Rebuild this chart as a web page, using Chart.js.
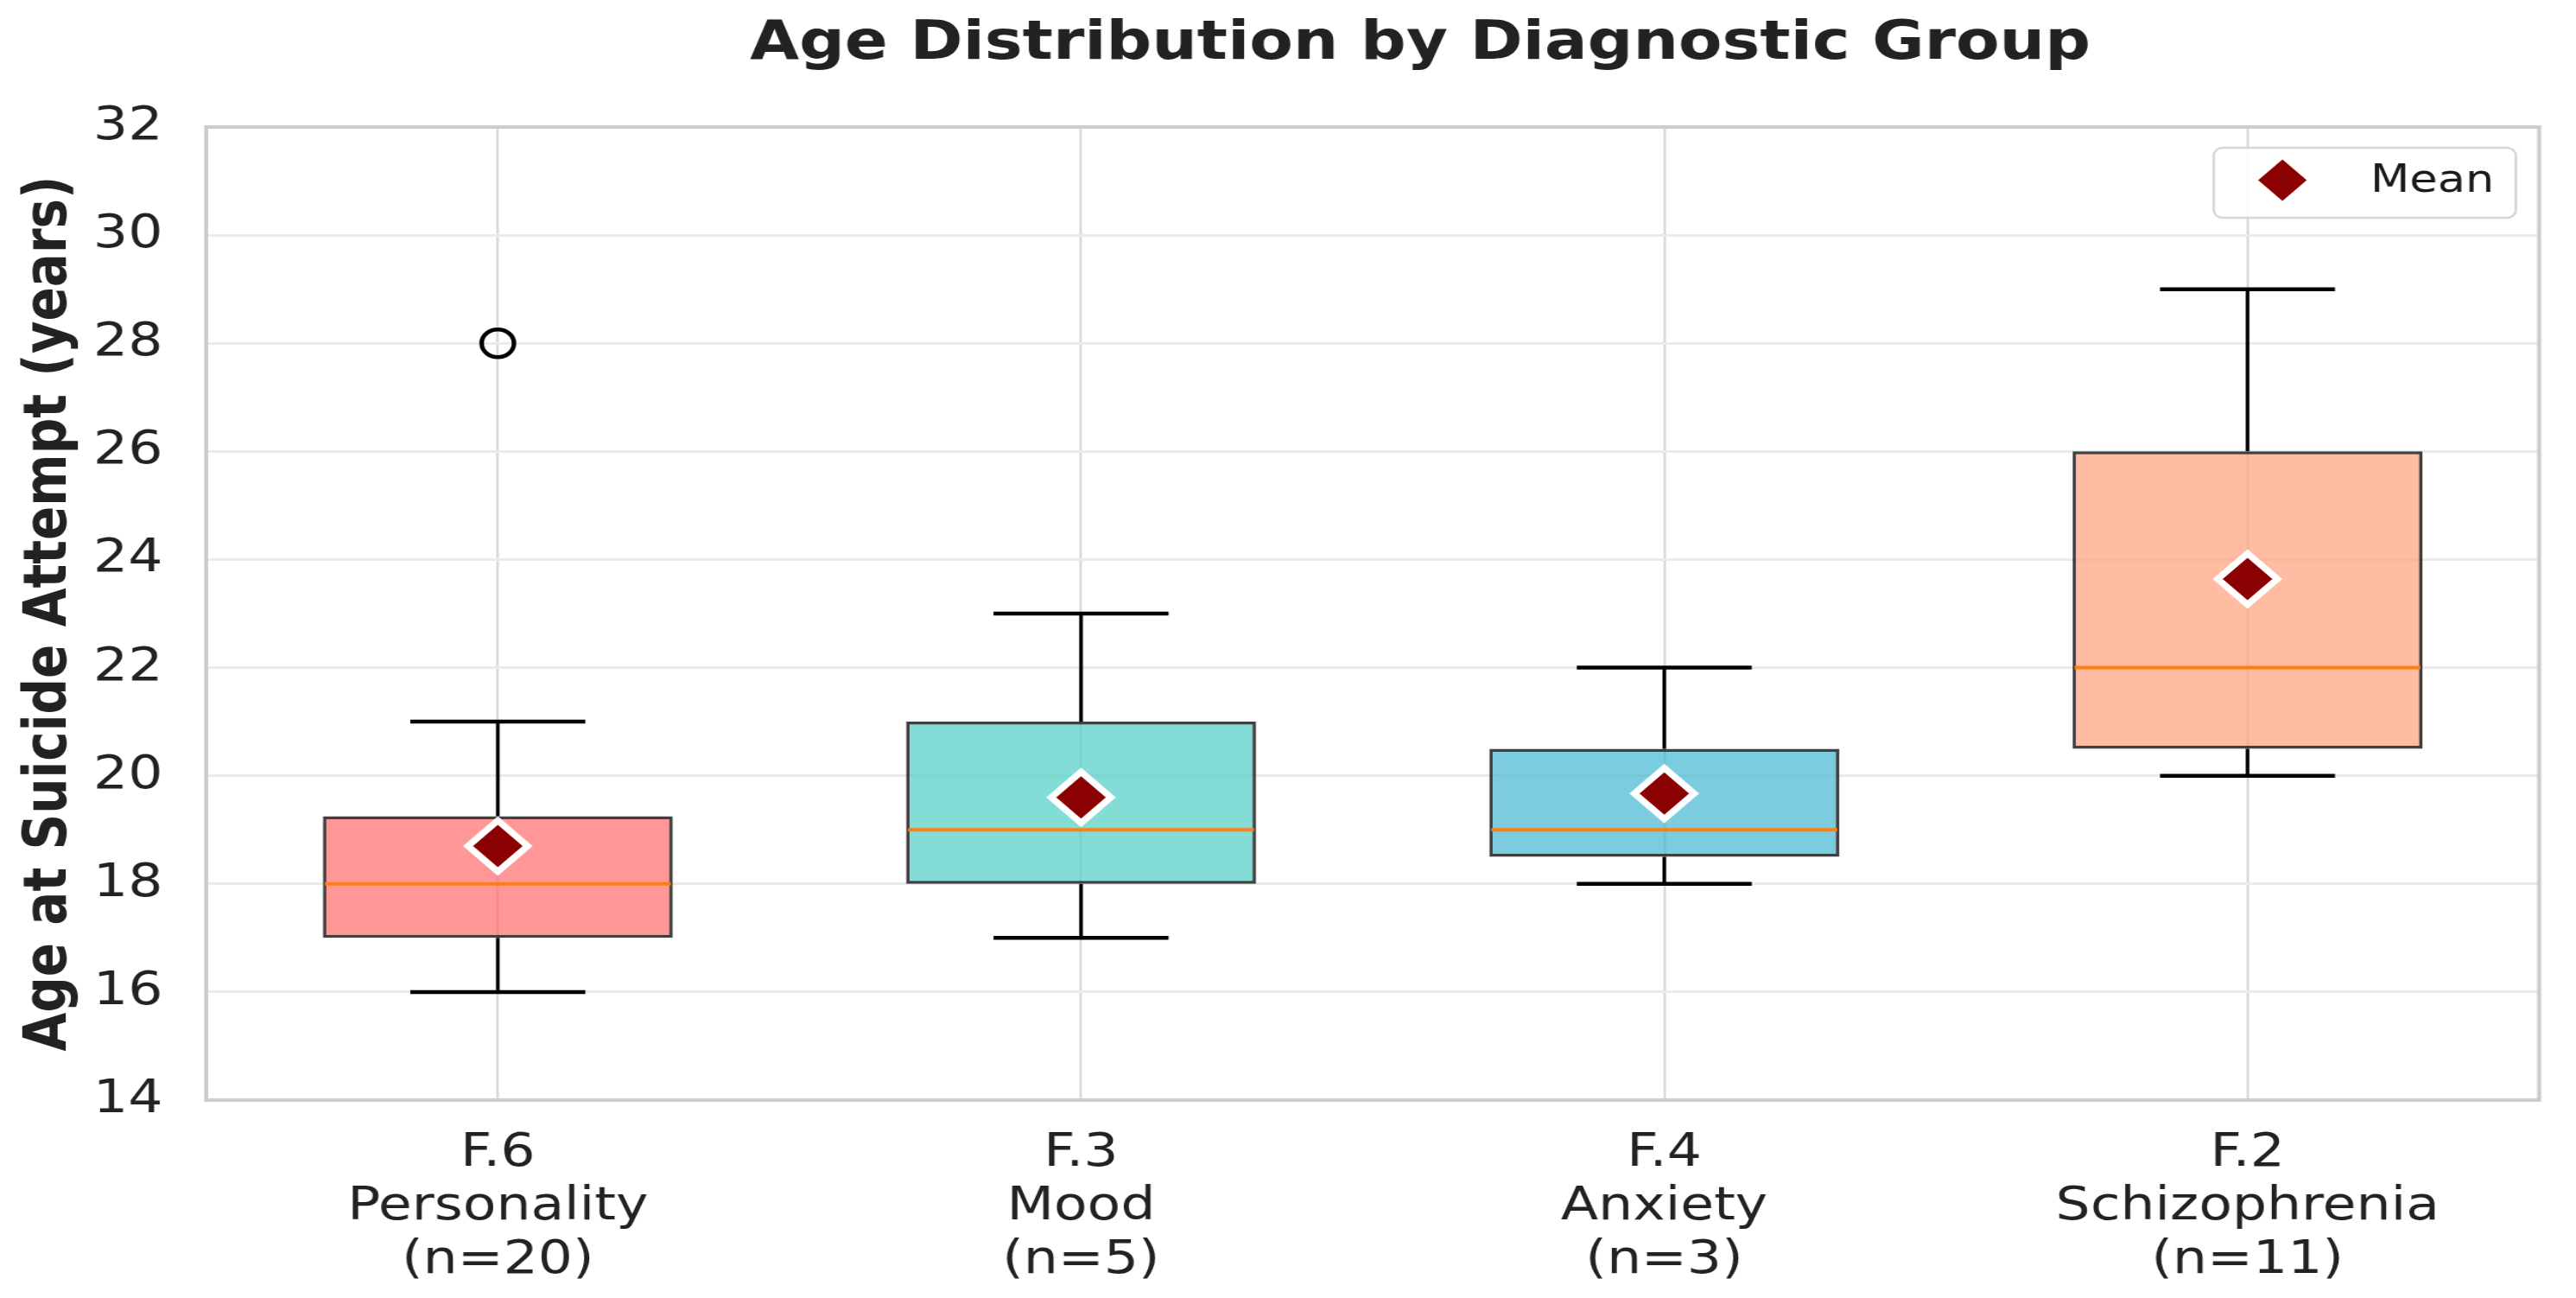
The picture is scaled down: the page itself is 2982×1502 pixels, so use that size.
<!DOCTYPE html>
<html>
<head>
<meta charset="utf-8">
<script src="https://cdn.jsdelivr.net/npm/chart.js@4.4.1/dist/chart.umd.min.js"></script>
<style>
  html, body { margin: 0; padding: 0; background: #ffffff; }
  #wrap { width: 2982px; height: 1502px; }
</style>
</head>
<body>
<div id="wrap"><canvas id="c" width="2549" height="1502" style="width:2982px;height:1502px;display:block"></canvas></div>
<script>
// ---- data ----
const categories = [
  ['F.6', 'Personality', '(n=20)'],
  ['F.3', 'Mood', '(n=5)'],
  ['F.4', 'Anxiety', '(n=3)'],
  ['F.2', 'Schizophrenia', '(n=11)']
];
const q1 = [17, 18, 18.5, 20.5];
const q3 = [19.25, 21, 20.5, 26];
const medians = [18, 19, 19, 22];
const whiskerLow = [16, 17, 18, 20];
const whiskerHigh = [21, 23, 22, 29];
const means = [18.7, 19.6, 19.67, 23.64];
const outliers = [28, null, null, null];
const boxColors = ['rgba(255,107,107,0.7)', 'rgba(78,205,196,0.7)', 'rgba(69,183,209,0.7)', 'rgba(255,160,122,0.7)'];
const legendLabels = ['Mean'];
const titleText = 'Age Distribution by Diagnostic Group';
const yTitleText = 'Age at Suicide Attempt (years)';
const yMin = 14, yMax = 32, yStep = 2;

const FONT = "'DejaVu Sans', 'Liberation Sans', sans-serif";
const BOX_FRAC = 0.6, CAP_FRAC = 0.3;

const boxPlugin = {
  id: 'boxParts',
  afterDatasetDraw(chart, args) {
    if (args.index !== 0) return;
    const ctx = chart.ctx;
    const xs = chart.scales.x, ys = chart.scales.y;
    const cw = xs.width / categories.length;
    ctx.save();
    ctx.lineCap = 'butt';
    for (let i = 0; i < categories.length; i++) {
      const x = xs.getPixelForValue(i);
      ctx.strokeStyle = '#000000';
      ctx.lineWidth = 3.6;
      ctx.beginPath();
      ctx.moveTo(x, ys.getPixelForValue(q1[i]));
      ctx.lineTo(x, ys.getPixelForValue(whiskerLow[i]));
      ctx.moveTo(x, ys.getPixelForValue(q3[i]));
      ctx.lineTo(x, ys.getPixelForValue(whiskerHigh[i]));
      ctx.stroke();
      ctx.lineWidth = 4.5;
      ctx.beginPath();
      const ch = cw * CAP_FRAC / 2;
      ctx.moveTo(x - ch, ys.getPixelForValue(whiskerLow[i]));
      ctx.lineTo(x + ch, ys.getPixelForValue(whiskerLow[i]));
      ctx.moveTo(x - ch, ys.getPixelForValue(whiskerHigh[i]));
      ctx.lineTo(x + ch, ys.getPixelForValue(whiskerHigh[i]));
      ctx.stroke();
      const bh = cw * BOX_FRAC / 2 - 2;
      ctx.strokeStyle = '#ff7f0e';
      ctx.lineWidth = 4;
      ctx.beginPath();
      ctx.moveTo(x - bh, ys.getPixelForValue(medians[i]));
      ctx.lineTo(x + bh, ys.getPixelForValue(medians[i]));
      ctx.stroke();
    }
    ctx.restore();
  },
  afterDraw(chart) {
    const ctx = chart.ctx;
    const a = chart.chartArea;
    ctx.save();
    // spines
    ctx.strokeStyle = '#cccccc';
    ctx.lineWidth = 4;
    ctx.strokeRect(a.left, a.top, a.right - a.left, a.bottom - a.top);
    // title
    ctx.fillStyle = '#222222';
    ctx.font = 'bold 63px ' + FONT;
    ctx.textAlign = 'center';
    ctx.textBaseline = 'alphabetic';
    ctx.fillText(titleText, (a.left + a.right) / 2 + 47, 68);
    // legend
    const w = 299, h = 81;
    const lx = a.right - 23 - w, ly = a.top + 24;
    const r = 9;
    ctx.beginPath();
    ctx.moveTo(lx + r, ly);
    ctx.lineTo(lx + w - r, ly);
    ctx.arcTo(lx + w, ly, lx + w, ly + r, r);
    ctx.lineTo(lx + w, ly + h - r);
    ctx.arcTo(lx + w, ly + h, lx + w - r, ly + h, r);
    ctx.lineTo(lx + r, ly + h);
    ctx.arcTo(lx, ly + h, lx, ly + h - r, r);
    ctx.lineTo(lx, ly + r);
    ctx.arcTo(lx, ly, lx + r, ly, r);
    ctx.closePath();
    ctx.fillStyle = 'rgba(255,255,255,0.85)';
    ctx.fill();
    ctx.strokeStyle = '#d6d6d6';
    ctx.lineWidth = 2.5;
    ctx.stroke();
    const cy = ly + h / 2 - 3;
    ctx.fillStyle = '#8B0000';
    ctx.strokeStyle = '#8B0000';
    Chart.helpers.drawPoint(ctx, { pointStyle: 'rectRot', radius: 24, borderWidth: 0, rotation: 0 }, lx + 68, cy);
    ctx.fillStyle = '#1a1a1a';
    ctx.font = '45px ' + FONT;
    ctx.textBaseline = 'middle';
    ctx.textAlign = 'left';
    ctx.fillText(legendLabels[0], lx + 155, cy + 2);
    ctx.restore();
  }
};

new Chart(document.getElementById('c'), {
  type: 'bar',
  data: {
    labels: categories,
    datasets: [
      {
        type: 'bar',
        label: 'IQR',
        data: q1.map((v, i) => [v, q3[i]]),
        backgroundColor: boxColors,
        borderColor: 'rgba(30,30,30,0.85)',
        borderWidth: 3.5,
        borderSkipped: false,
        barPercentage: BOX_FRAC,
        categoryPercentage: 1.0,
        order: 2
      },
      {
        type: 'line',
        label: 'Outliers',
        data: outliers,
        showLine: false,
        pointStyle: 'circle',
        pointRadius: 16,
        pointBorderWidth: 4.5,
        pointBorderColor: '#000000',
        pointBackgroundColor: 'rgba(0,0,0,0)',
        order: 1
      },
      {
        type: 'line',
        label: legendLabels[0],
        data: means,
        showLine: false,
        pointStyle: 'rectRot',
        pointRadius: 29.5,
        pointBorderWidth: 7,
        pointBorderColor: '#ffffff',
        pointBackgroundColor: '#8B0000',
        order: 0
      }
    ]
  },
  options: {
    responsive: false,
    maintainAspectRatio: false,
    devicePixelRatio: 1,
    animation: false,
    layout: { padding: { left: 0, right: 23, top: 147, bottom: 0 } },
    plugins: {
      legend: { display: false },
      tooltip: { enabled: false },
      title: { display: false }
    },
    scales: {
      x: {
        type: 'category',
        offset: true,
        grid: { display: true, offset: false, color: '#d9d9d9', lineWidth: 2.5, drawTicks: false },
        border: { display: false },
        ticks: {
          color: '#222222',
          font: { family: FONT, size: 54, lineHeight: 1.15 },
          padding: 31,
          maxRotation: 0,
          autoSkip: false
        },
        afterFit(scale) { scale.height = 229; }
      },
      y: {
        type: 'linear',
        min: yMin,
        max: yMax,
        grid: { color: '#ebebeb', lineWidth: 3, drawTicks: false },
        border: { display: false },
        ticks: {
          stepSize: yStep,
          color: '#222222',
          font: { family: FONT, size: 54 },
          padding: 43
        },
        title: {
          display: true,
          text: yTitleText,
          color: '#222222',
          font: { family: FONT, size: 58, weight: 'bold', lineHeight: 1.2 },
          padding: { top: 15, bottom: 0 }
        },
        afterFit(scale) { scale.width = 204; }
      }
    }
  },
  plugins: [boxPlugin]
});
</script>
</body>
</html>
